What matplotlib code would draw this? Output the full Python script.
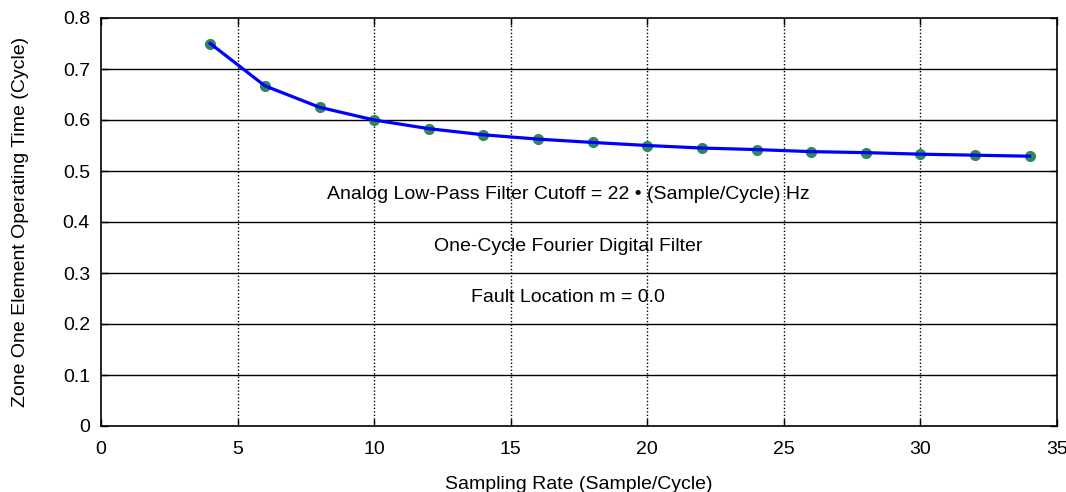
import matplotlib
matplotlib.use('Agg')
import matplotlib.pyplot as plt

plt.rcParams['font.family'] = ['Liberation Sans', 'DejaVu Sans']

# Operating time of the zone one element vs. sampling rate
sampling_rate = [4, 6, 8, 10, 12, 14, 16, 18, 20, 22, 24, 26, 28, 30, 32, 34]
operating_time = [0.750, 0.667, 0.625, 0.600, 0.583, 0.571, 0.5625, 0.556,
                  0.550, 0.545, 0.542, 0.538, 0.536, 0.533, 0.531, 0.529]

x_ticks = [0, 5, 10, 15, 20, 25, 30, 35]
y_ticks = [0, 0.1, 0.2, 0.3, 0.4, 0.5, 0.6, 0.7, 0.8]
y_tick_labels = ['0', '0.1', '0.2', '0.3', '0.4', '0.5', '0.6', '0.7', '0.8']

fs = 14

fig = plt.figure(figsize=(10.66, 4.92), dpi=100)
ax = fig.add_axes([101 / 1066, 66 / 492, 956 / 1066, 408 / 492])

# grid: solid horizontal, dotted vertical
for y in y_ticks[1:-1]:
    ax.axhline(y, color='black', lw=1.0, zorder=1)
for x in x_ticks[1:-1]:
    ax.axvline(x, color='black', lw=1.0, ls=(0, (1, 1.5)), zorder=1)

ax.plot(sampling_rate, operating_time, ls='none', marker='o', ms=7,
        mfc='#2e8b57', mec='#2e8b57', zorder=3)
ax.plot(sampling_rate, operating_time, color='#0000ff', lw=2.3, zorder=4)

ax.set_xlim(0, 35)
ax.set_ylim(0, 0.8)
ax.set_xticks(x_ticks)
ax.set_yticks(y_ticks)
ax.set_yticklabels(y_tick_labels)
ax.tick_params(direction='in', length=5, width=1, labelsize=fs,
               top=True, right=True)
ax.tick_params(axis='x', pad=11)
ax.tick_params(axis='y', pad=8)
for sp in ax.spines.values():
    sp.set_linewidth(1.2)

ax.set_xlabel('Sampling Rate (Sample/Cycle)', fontsize=fs, labelpad=13)
ax.set_ylabel('Zone One Element Operating Time (Cycle)', fontsize=fs, labelpad=24)

ax.text(17.1, 0.453, 'Analog Low-Pass Filter Cutoff = 22 \u2022 (Sample/Cycle) Hz',
        ha='center', va='center', fontsize=fs)
ax.text(17.1, 0.351, 'One-Cycle Fourier Digital Filter',
        ha='center', va='center', fontsize=fs)
ax.text(17.1, 0.252, 'Fault Location m = 0.0',
        ha='center', va='center', fontsize=fs)

fig.savefig('out.png', dpi=100)
